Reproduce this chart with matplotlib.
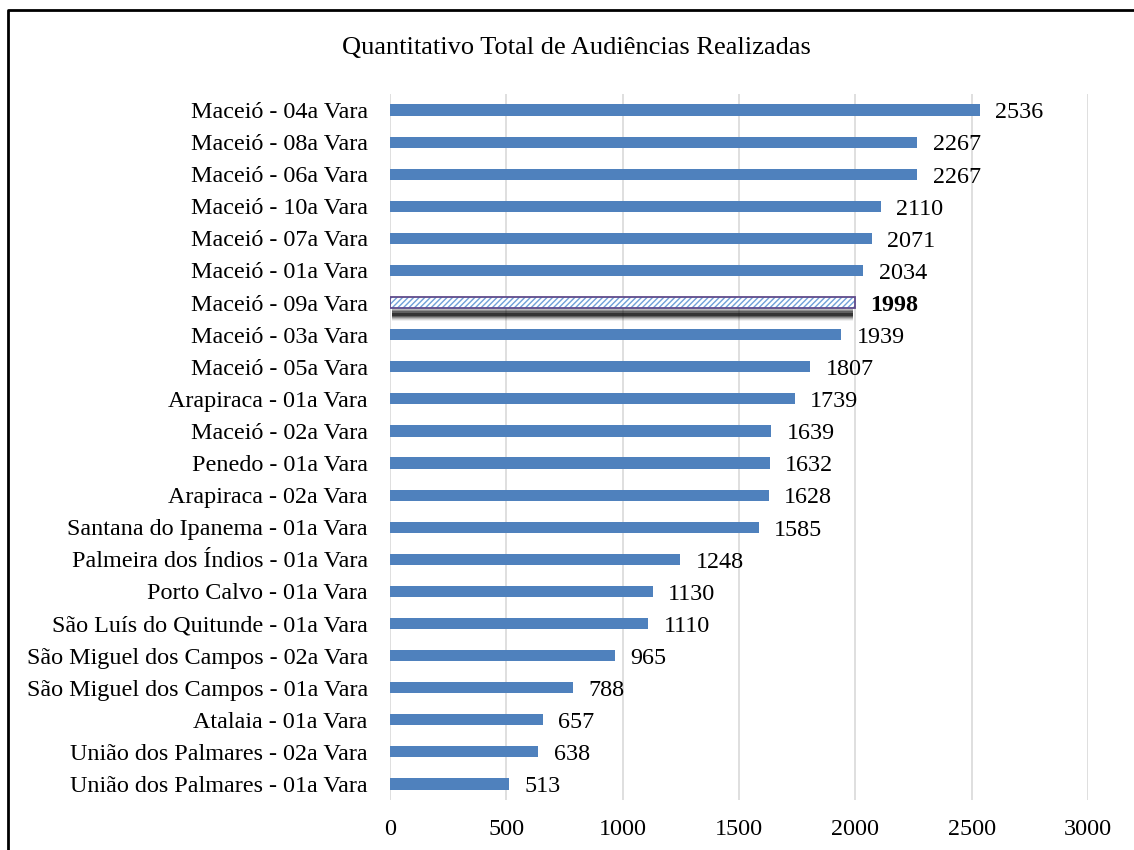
import matplotlib
matplotlib.use("Agg")
import matplotlib.pyplot as plt
from matplotlib.lines import Line2D

plt.rcParams["font.family"] = ["Liberation Serif", "DejaVu Serif"]
plt.rcParams["hatch.linewidth"] = 1.0

varas = [
    "Maceió - 04a Vara", "Maceió - 08a Vara", "Maceió - 06a Vara",
    "Maceió - 10a Vara", "Maceió - 07a Vara", "Maceió - 01a Vara",
    "Maceió - 09a Vara", "Maceió - 03a Vara", "Maceió - 05a Vara",
    "Arapiraca - 01a Vara", "Maceió - 02a Vara", "Penedo - 01a Vara",
    "Arapiraca - 02a Vara", "Santana do Ipanema - 01a Vara",
    "Palmeira dos Índios - 01a Vara", "Porto Calvo - 01a Vara",
    "São Luís do Quitunde - 01a Vara", "São Miguel dos Campos - 02a Vara",
    "São Miguel dos Campos - 01a Vara", "Atalaia - 01a Vara",
    "União dos Palmares - 02a Vara", "União dos Palmares - 01a Vara",
]
audiencias = [2536, 2267, 2267, 2110, 2071, 2034, 1998, 1939, 1807, 1739,
              1639, 1632, 1628, 1585, 1248, 1130, 1110, 965, 788, 657, 638, 513]
destaque = "Maceió - 09a Vara"

blue = "#4f81bd"
bar_h = 0.35
fs = 17.4

fig = plt.figure(figsize=(11.34, 8.5), dpi=100)
ax = fig.add_axes([390 / 1134, 1 - 800 / 850, (1088 - 390) / 1134, (800 - 94) / 850])

ypos = list(range(len(varas)))
for y, name, val in zip(ypos, varas, audiencias):
    if name == destaque:
        # soft shadow under the highlighted bar
        for k, a in enumerate([0.06, 0.10, 0.15, 0.22, 0.32, 0.45]):
            grow = (5 - k) * 0.07
            ax.barh(y + 0.36, val - 20, height=0.1 + grow, left=10,
                    color="black", alpha=a, linewidth=0, zorder=2)
        ax.barh(y, val, height=bar_h, color="white", edgecolor="#6fa0d8",
                hatch="//////", linewidth=0, zorder=3)
        ax.barh(y, val, height=bar_h, color="none", edgecolor="#5f4b8b",
                linewidth=1.3, zorder=4)
        ax.annotate(str(val), (val, y), xytext=(11, -2), textcoords="offset points",
                    va="center", ha="left", fontsize=fs, fontweight="bold")
    else:
        ax.barh(y, val, height=bar_h, color=blue, linewidth=0, zorder=3)
        ax.annotate(str(val), (val, y), xytext=(11, -2), textcoords="offset points",
                    va="center", ha="left", fontsize=fs)

ax.set_xlim(0, 3000)
ax.set_ylim(len(varas) - 0.5, -0.5)
ax.set_xticks(range(0, 3001, 500))
ax.set_yticks(ypos)
ax.set_yticklabels(varas)
ax.tick_params(axis="both", length=0, labelsize=fs)
ax.tick_params(axis="y", pad=16)
ax.tick_params(axis="x", pad=14)
ax.grid(axis="x", color="#d9d9d9", linewidth=1.2, zorder=0)
ax.set_axisbelow(True)
for s in ax.spines.values():
    s.set_visible(False)

fig.text(576 / 1134, 1 - 48 / 850, "Quantitativo Total de Audiências Realizadas",
         ha="center", va="center", fontsize=19)

# cropped outer frame (left and top edges only)
fig.add_artist(Line2D([8 / 1134, 8 / 1134, 1.0], [0.0, 1 - 10 / 850, 1 - 10 / 850],
                      transform=fig.transFigure, color="black", linewidth=2))

fig.savefig("out.png", dpi=100)
